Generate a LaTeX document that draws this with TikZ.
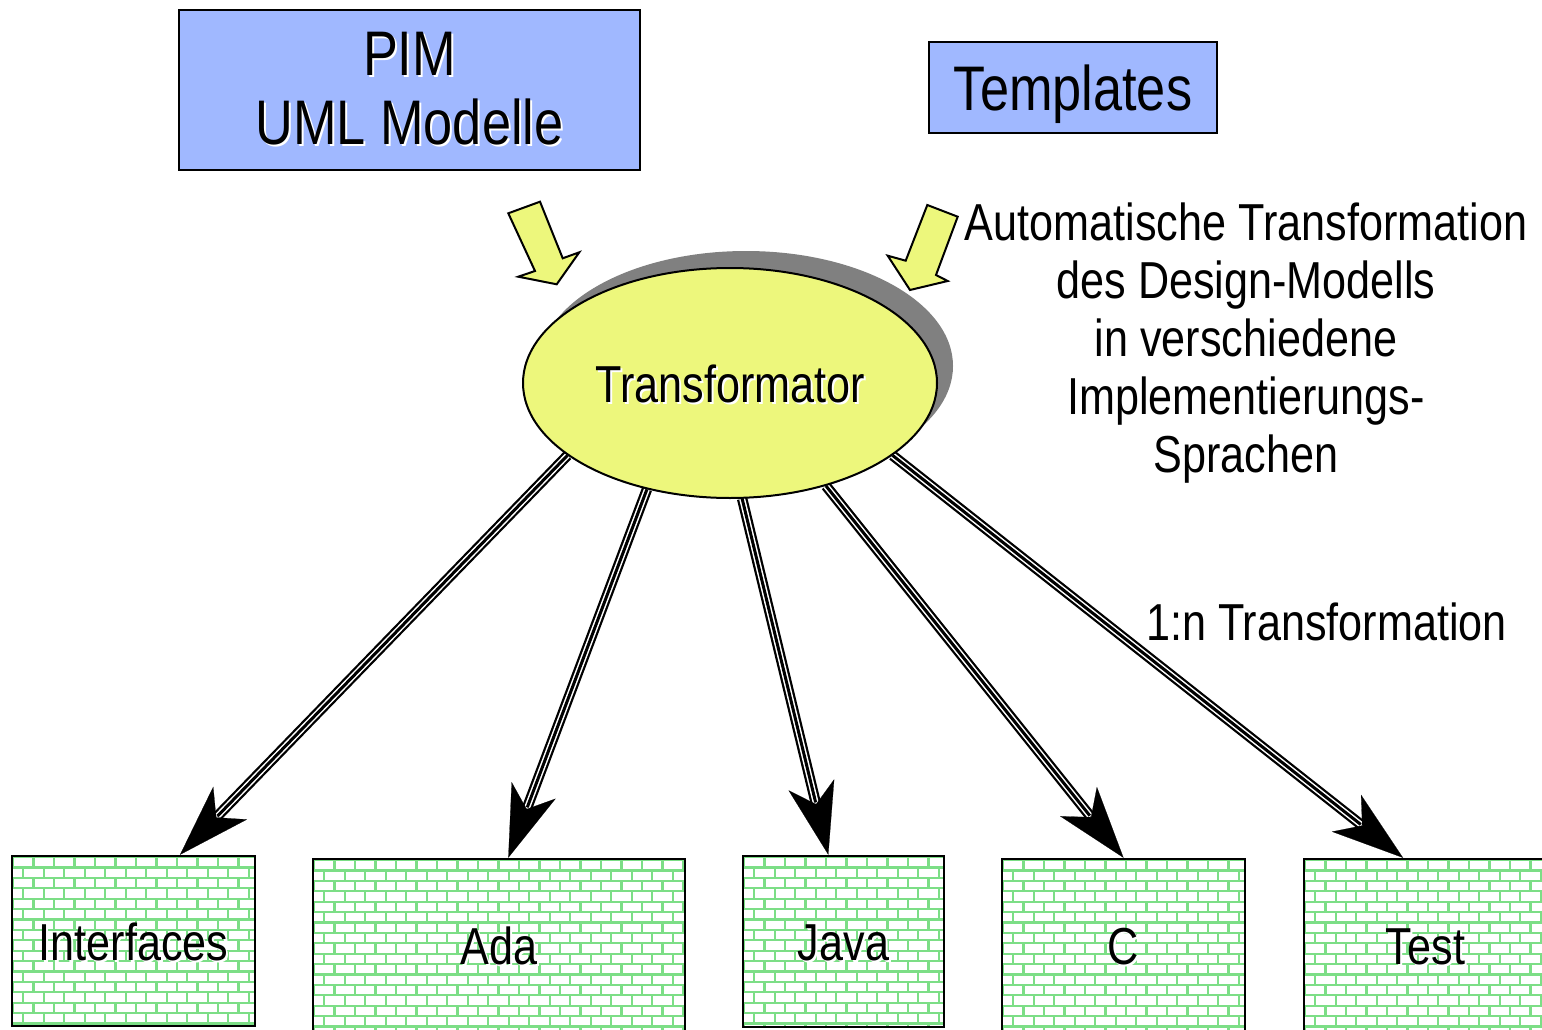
\documentclass[tikz,border=0pt]{standalone}
\usepackage{fontspec}
\setmainfont{Liberation Sans}[FakeStretch=0.83]
\usetikzlibrary{arrows.meta,shapes.geometric,backgrounds,shadows}

\definecolor{pimblue}{RGB}{160,184,255}
\definecolor{trafoyellow}{RGB}{237,247,124}
\definecolor{shadowgray}{RGB}{128,128,128}
\definecolor{mortar}{RGB}{124,222,134}

% text with a small white shadow below right
\newcommand\shd[1]{\rlap{\kern2pt\raisebox{-2pt}{\textcolor{white}{#1}}}#1}

\begin{document}
\begin{tikzpicture}[x=1pt,y=-1pt,
  bluebox/.style={draw, line width=2pt, fill=pimblue, inner sep=0pt},
  mortarline/.style={draw=mortar, line width=2.2pt},
  % brick wall: rows of 10.4pt, bricks of 20.5pt, every other row offset by half a brick
  brickbox/.style={draw, line width=2.5pt, fill=white,
    inner sep=0pt, text height=38pt, text depth=0pt, font=\fontsize{52}{57}\selectfont,
    path picture={
      \coordinate (bw) at (path picture bounding box.north west);
      \foreach \r in {0,...,17}{
        \path[mortarline] ([shift={(0,\r*10.4+1)}]bw) -- ++(400,0);
        \pgfmathsetmacro\off{mod(\r,2)*10.25+1}
        \foreach \k in {0,...,19}
          \path[mortarline] ([shift={(\off+\k*20.5,\r*10.4+1)}]bw) -- ++(0,10.4);
      }}},
  blockarrow/.style={draw, line width=2pt, fill=trafoyellow, line join=miter},
  flow/.style={line width=0.2pt, -{Stealth[length=72pt,width=47pt,inset=20pt]},
    preaction={draw=black, line width=10.5pt, -, shorten >=54pt},
    preaction={draw=white, line width=6pt, -, shorten >=54pt},
    preaction={draw=black, line width=3pt, -, shorten >=54pt}},
  plain/.style={inner sep=0pt, font=\fontsize{52}{57.8}\selectfont}
]
\begin{scope}[on background layer]
  \fill[white] (0,0) rectangle (1542,1030);
\end{scope}
\useasboundingbox (0,0) rectangle (1542,1030);

% inputs
\node[bluebox, minimum width=461pt, minimum height=160pt, align=center,
      font=\fontsize{63}{69}\selectfont] (pim) at (409.5,90) {\shd{PIM}\\\shd{UML Modelle}};
\node[bluebox, minimum width=288pt, minimum height=91pt, text height=47pt, text depth=0pt,
      font=\fontsize{63}{69}\selectfont] (tpl) at (1073,87.5) {Templates};

% the transformer
\node[ellipse, draw, line width=2pt, fill=trafoyellow, minimum width=414pt, minimum height=230pt,
      inner sep=0pt, text height=38pt, text depth=0pt, font=\fontsize{52}{57}\selectfont,
      drop shadow={shadow xshift=16pt, shadow yshift=17pt, fill=shadowgray, opacity=1}]
      (tr) at (730,383) {\shd{Transformator}};

% input arrows
\draw[blockarrow] (508.3,213.3) -- (540,201.7) -- (562.7,258.3) -- (579.3,252.3)
   -- (556.7,284.3) -- (518.3,276.7) -- (535,271) -- cycle;
\draw[blockarrow] (927.3,205) -- (957.7,216.7) -- (936,275) -- (947.7,281)
   -- (910,290) -- (887.7,255.7) -- (905.7,260.7) -- cycle;

% descriptions
\node[plain, align=center, anchor=north] (desc) at (1246,203)
  {Automatische Transformation\\des Design-Modells\\in verschiedene\\Implementierungs-\\Sprachen};
\node[plain, anchor=base] (onen) at (1326.5,640) {1:n Transformation};

% generated outputs
\node[brickbox, minimum width=243pt, minimum height=170pt] (if) at (133.5,941) {\shd{Interfaces}};
\node[brickbox, minimum width=372pt, minimum height=172pt] (ada) at (499,945) {\shd{Ada}};
\node[brickbox, minimum width=201pt, minimum height=171pt] (java) at (843.5,941.5) {\shd{Java}};
\node[brickbox, minimum width=243pt, minimum height=172pt] (c) at (1123.5,945) {\shd{C}};
\node[brickbox, minimum width=243pt, minimum height=172pt] (test) at (1425.5,945) {\shd{Test}};

% 1:n transformation arrows
\begin{scope}[on background layer]
  \draw[flow] (tr.204.8) -- ([xshift=46.5pt]if.north);
  \draw[flow] (tr.232.1) -- ([xshift=9.3pt]ada.north);
  \draw[flow] (tr.276.3) -- ([xshift=-15.2pt]java.north);
  \draw[flow] (tr.313.1) -- (c.north);
  \draw[flow] (tr.336.1) -- ([xshift=-22.5pt]test.north);
\end{scope}
\end{tikzpicture}
\end{document}
